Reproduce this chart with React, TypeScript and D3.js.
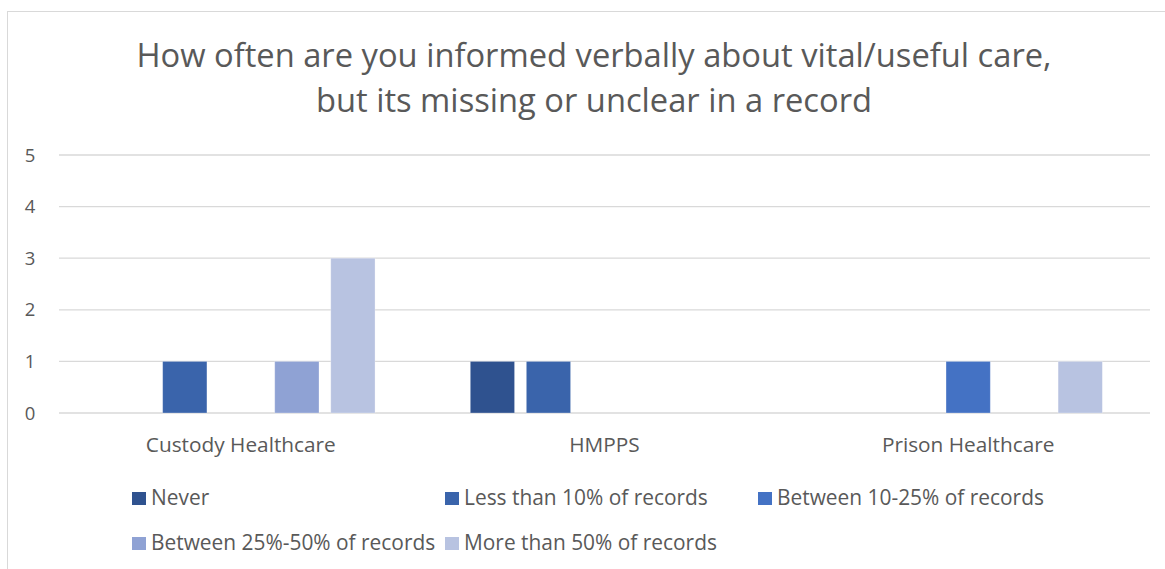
import React from "react";
import * as d3 from "d3";

const categories = ["Custody Healthcare", "HMPPS", "Prison Healthcare"];
const seriesNames = [
  "Never",
  "Less than 10% of records",
  "Between 10-25% of records",
  "Between 25%-50% of records",
  "More than 50% of records",
];
const seriesColors = ["#2F528F", "#3A64AB", "#4472C4", "#8FA2D4", "#B8C3E1"];
// values[series][category]
const neverValues = [0, 1, 0];
const lessThan10Values = [1, 1, 0];
const between10to25Values = [0, 0, 1];
const between25to50Values = [1, 0, 0];
const moreThan50Values = [3, 0, 1];
const seriesValues = [neverValues, lessThan10Values, between10to25Values, between25to50Values, moreThan50Values];
const yTicks = [0, 1, 2, 3, 4, 5];
const titleLines = [
  "How often are you informed verbally about vital/useful care,",
  "but its missing or unclear in a record",
];

const W = 1165;
const H = 569;
const FONT = "'Open Sans', 'Noto Sans', sans-serif";
const TXT = "#595959";

export default function App() {
  const left = 59, right = 1150, top = 155, bottom = 413;
  const x0 = d3.scaleBand<string>().domain(categories).range([left, right]).padding(0);
  const x1 = d3
    .scaleBand<string>()
    .domain(seriesNames)
    .range([0, x0.bandwidth()])
    .paddingInner(0.21)
    .paddingOuter(0.85);
  const y = d3.scaleLinear().domain([0, 5]).range([bottom, top]);

  const legendRows = [
    [0, 1, 2],
    [3, 4],
  ];
  const legendX = [132, 445, 758];
  const legendY = [505, 550];

  return (
    <svg
      width={W}
      height={H}
      style={{ position: "absolute", left: 0, top: 0, background: "#fff" }}
      fontFamily={FONT}
    >
      <rect x={7.5} y={11.5} width={1180} height={600} fill="#fff" stroke="#D9D9D9" strokeWidth={1} />
      {titleLines.map((t, i) => (
        <text key={i} x={594} y={67 + i * 45} textAnchor="middle" fontSize={32.7} fill={TXT}>
          {t}
        </text>
      ))}
      {yTicks.map((t) => (
        <g key={t}>
          <line x1={left} x2={right} y1={y(t)} y2={y(t)} stroke="#D9D9D9" strokeWidth={1.3} />
          <text x={30} y={y(t)} dy="0.36em" textAnchor="middle" fontSize={18.5} fill={TXT}>
            {t}
          </text>
        </g>
      ))}
      {categories.map((c, ci) => (
        <g key={c} transform={`translate(${x0(c)},0)`}>
          {seriesNames.map((s, si) => {
            const v = seriesValues[si][ci];
            if (!v) return null;
            return (
              <rect
                key={s}
                x={x1(s)}
                y={y(v)}
                width={x1.bandwidth()}
                height={y(0) - y(v)}
                fill={seriesColors[si]}
                stroke="rgba(255,255,255,0.35)"
                strokeWidth={0.8}
              />
            );
          })}
          <text x={x0.bandwidth() / 2} y={452} textAnchor="middle" fontSize={20.8} fill={TXT}>
            {c}
          </text>
        </g>
      ))}
      {legendRows.map((row, ri) =>
        row.map((si, k) => (
          <g key={si} transform={`translate(${legendX[k]},${legendY[ri]})`}>
            <rect x={0} y={-13} width={14} height={13} fill={seriesColors[si]} />
            <text x={19} y={0} fontSize={20.9} fill={TXT}>
              {seriesNames[si]}
            </text>
          </g>
        ))
      )}
    </svg>
  );
}
